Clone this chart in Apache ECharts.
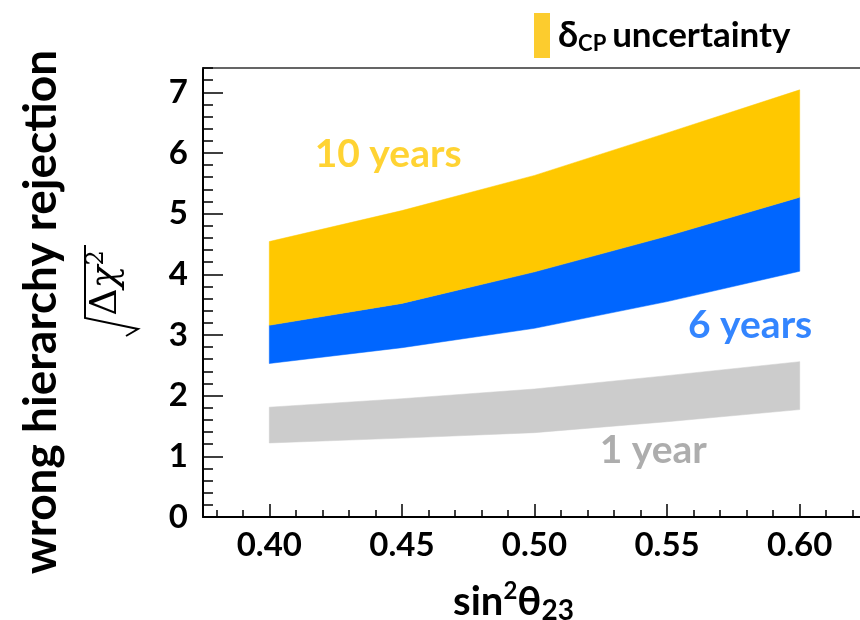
<!DOCTYPE html>
<html>
<head>
<meta charset="utf-8">
<script src="https://cdn.jsdelivr.net/npm/echarts@6/dist/echarts.min.js"></script>
<style>html,body{margin:0;padding:0;background:#fff}#c{width:860px;height:620px}</style>
</head>
<body>
<div id="c"></div>
<script>
// sin^2 theta23 values
var xValues = [0.40, 0.45, 0.50, 0.55, 0.60];
// 1 year band (grey)
var year1Low  = [1.22, 1.30, 1.39, 1.57, 1.77];
var year1High = [1.81, 1.95, 2.11, 2.33, 2.56];
// 6 years band (blue)
var year6Low  = [2.53, 2.79, 3.11, 3.55, 4.05];
var year6High = [3.16, 3.52, 4.04, 4.63, 5.27];
// 10 years band (yellow); lower edge = top of the 6 years band
var year10Low  = [3.16, 3.52, 4.04, 4.63, 5.27];
var year10High = [4.54, 5.05, 5.63, 6.33, 7.04];

var xMajorTicks = [0.40, 0.45, 0.50, 0.55, 0.60];
var xMinorTicks = [0.38, 0.39, 0.41, 0.42, 0.43, 0.44, 0.46, 0.47, 0.48, 0.49, 0.51, 0.52, 0.53, 0.54, 0.56, 0.57, 0.58, 0.59, 0.61, 0.62];
var yMajorTicks = [0, 1, 2, 3, 4, 5, 6, 7];
var yMinorTicks = [0.2,0.4,0.6,0.8,1.2,1.4,1.6,1.8,2.2,2.4,2.6,2.8,3.2,3.4,3.6,3.8,4.2,4.4,4.6,4.8,5.2,5.4,5.6,5.8,6.2,6.4,6.6,6.8,7.2,7.4];

var bandLabels = [
  {text: '10 years', x: 0.4448, y: 5.98, color: '#FFC800'},
  {text: '6 years',  x: 0.5813, y: 3.16, color: '#0066FF'},
  {text: '1 year',   x: 0.5448, y: 1.09, color: '#999999'}
];

function pairs(xs, ys) { return xs.map(function (x, i) { return [x, ys[i]]; }); }

var FONT = 'Lato';
var chart = echarts.init(document.getElementById('c'), null, {renderer: 'canvas'});

function bandSeries(name, lo, hi, color) {
  return {
    name: name, type: 'custom', silent: true, z: 2, clip: true,
    itemStyle: {color: color},
    data: pairs(xValues, hi), encode: {x: 0, y: 1},
    renderItem: function (params, api) {
      if (params.dataIndex !== 0) return null;
      var pts = [];
      for (var i = 0; i < xValues.length; i++) pts.push(api.coord([xValues[i], hi[i]]));
      for (var j = xValues.length - 1; j >= 0; j--) pts.push(api.coord([xValues[j], lo[j]]));
      return {type: 'polygon', shape: {points: pts}, style: {fill: color, stroke: color, lineWidth: 0.5}};
    }
  };
}

var option = {
  animation: false,
  backgroundColor: '#fff',
  textStyle: {fontFamily: FONT},
  grid: {left: 203, top: 68, right: -6, bottom: 103, show: false, containLabel: false, outerBoundsMode: 'none'},
  legend: {
    data: [{name: 'dcp', icon: 'rect', itemStyle: {color: '#FCCC2E'}}],
    left: 529, top: 8, itemWidth: 16, itemHeight: 45, itemGap: 10,
    selectedMode: false,
    formatter: function () { return '{d|δ}{s|CP}  {u|uncertainty}'; },
    textStyle: {
      fontFamily: FONT, fontWeight: 'bold', color: '#000', padding: [0, 0, 0, 3],
      rich: {
        d: {fontFamily: FONT, fontWeight: 'bold', fontSize: 36, color: '#000'},
        s: {fontFamily: FONT, fontWeight: 'bold', fontSize: 22, color: '#000', verticalAlign: 'bottom', padding: [16, 0, 0, 0]},
        u: {fontFamily: FONT, fontWeight: 'bold', fontSize: 35, color: '#000'}
      }
    }
  },
  xAxis: [{
    type: 'value', min: 0.375, max: 0.625, position: 'bottom',
    axisLine: {show: true, onZero: false, lineStyle: {color: '#000', width: 2}},
    axisTick: {show: true, inside: true, length: 13, customValues: xMajorTicks, lineStyle: {color: '#000', width: 1.5}},
    axisLabel: {customValues: xMajorTicks, margin: 12, color: '#000', fontFamily: FONT, fontWeight: 'bold', fontSize: 33,
      formatter: function (v) { return v.toFixed(2); }},
    splitLine: {show: false},
    name: '{a|sin}{b|2}{a|θ}{c|23}', nameLocation: 'middle', nameGap: 62,
    nameTextStyle: {padding: [0, 42, 0, 0], rich: {
      a: {fontFamily: FONT, fontWeight: 'bold', fontSize: 40, color: '#000'},
      b: {fontFamily: FONT, fontWeight: 'bold', fontSize: 24, color: '#000', verticalAlign: 'top', padding: [0, 0, 14, 0]},
      c: {fontFamily: FONT, fontWeight: 'bold', fontSize: 28, color: '#000', verticalAlign: 'bottom', padding: [18, 0, 0, 0]}
    }}
  }, {
    type: 'value', min: 0.375, max: 0.625, position: 'bottom',
    axisLine: {show: false},
    axisTick: {show: true, inside: true, length: 7, customValues: xMinorTicks, lineStyle: {color: '#000', width: 1.5}},
    axisLabel: {show: false},
    splitLine: {show: false}
  }, {
    type: 'value', min: 0.375, max: 0.625, position: 'top',
    axisLine: {show: true, onZero: false, lineStyle: {color: '#333', width: 1.5}},
    axisTick: {show: false}, axisLabel: {show: false}, splitLine: {show: false}
  }],
  yAxis: [{
    type: 'value', min: 0, max: 7.4, position: 'left',
    axisLine: {show: true, onZero: false, lineStyle: {color: '#000', width: 2}},
    axisTick: {show: true, inside: true, length: 20, customValues: yMajorTicks, lineStyle: {color: '#000', width: 1.5}},
    axisLabel: {customValues: yMajorTicks, margin: 15, color: '#000', fontFamily: FONT, fontWeight: 'bold', fontSize: 33},
    splitLine: {show: false}
  }, {
    type: 'value', min: 0, max: 7.4, position: 'left',
    axisLine: {show: false},
    axisTick: {show: true, inside: true, length: 10, customValues: yMinorTicks, lineStyle: {color: '#000', width: 1.5}},
    axisLabel: {show: false},
    splitLine: {show: false}
  }],
  series: [
    bandSeries('1 year', year1Low, year1High, '#CCCCCC'),
    bandSeries('6 years', year6Low, year6High, '#0066FF'),
    bandSeries('dcp', year10Low, year10High, '#FFC800'),
    {
      name: 'labels', type: 'scatter', symbolSize: 0, silent: true, z: 5,
      data: bandLabels.map(function (l) {
        return {value: [l.x, l.y], label: {show: true, position: 'inside', formatter: l.text,
          color: l.color, fontFamily: FONT, fontWeight: 'bold', fontSize: 39}};
      })
    }
  ],
  graphic: [
    {type: 'text', x: 41, y: 312, rotation: Math.PI / 2,
      style: {text: 'wrong hierarchy rejection', fontFamily: FONT, fontWeight: 'bold', fontSize: 46, fill: '#000',
        align: 'center', verticalAlign: 'middle'}},
    {type: 'text', x: 106, y: 283, rotation: Math.PI / 2,
      style: {text: '{a|Δ}{b|χ}{c|2}', fill: '#000', align: 'center', verticalAlign: 'middle',
        rich: {
          a: {fontFamily: 'DejaVu Serif', fontSize: 38, fill: '#000'},
          b: {fontFamily: 'DejaVu Serif', fontStyle: 'italic', fontSize: 38, fill: '#000'},
          c: {fontFamily: 'DejaVu Serif', fontSize: 24, fill: '#000', verticalAlign: 'top', padding: [0, 0, 18, 0]}
        }}},
    {type: 'polyline', shape: {points: [[85, 245], [85, 318], [138, 329], [126, 336]]},
      style: {stroke: '#000', lineWidth: 2, fill: null}}
  ]
};
chart.setOption(option);
</script>
</body>
</html>
